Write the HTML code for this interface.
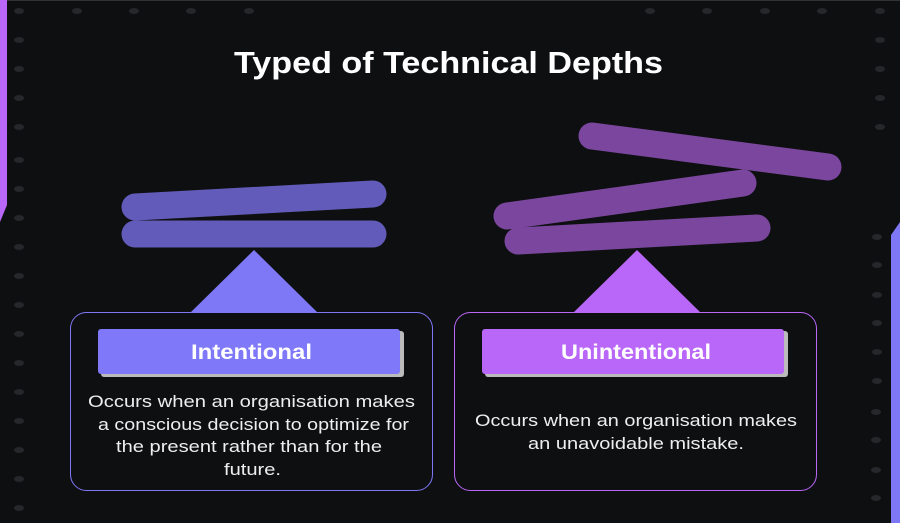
<!DOCTYPE html>
<html><head><style>
body{margin:0;background:#0e0f11;}
svg{display:block;font-family:"Liberation Sans",sans-serif;}
</style></head><body>
<svg width="900" height="523" viewBox="0 0 900 523" xmlns="http://www.w3.org/2000/svg">
<rect width="900" height="523" fill="#0e0f11"/>
<rect width="900" height="1" fill="#333"/>
<g fill="#26272a">
<ellipse cx="77" cy="11" rx="5" ry="3"/><ellipse cx="134" cy="11" rx="5" ry="3"/><ellipse cx="191" cy="11" rx="5" ry="3"/><ellipse cx="249" cy="11" rx="5" ry="3"/>
<ellipse cx="650" cy="11" rx="5" ry="3"/><ellipse cx="707" cy="11" rx="5" ry="3"/><ellipse cx="765" cy="11" rx="5" ry="3"/><ellipse cx="822" cy="11" rx="5" ry="3"/><ellipse cx="880" cy="11" rx="5" ry="3"/>
<ellipse cx="19" cy="11" rx="5" ry="3"/><ellipse cx="19" cy="40" rx="5" ry="3"/><ellipse cx="19" cy="69" rx="5" ry="3"/><ellipse cx="19" cy="98" rx="5" ry="3"/><ellipse cx="19" cy="127" rx="5" ry="3"/><ellipse cx="19" cy="160" rx="5" ry="3"/><ellipse cx="19" cy="189" rx="5" ry="3"/><ellipse cx="19" cy="218" rx="5" ry="3"/><ellipse cx="19" cy="247" rx="5" ry="3"/><ellipse cx="19" cy="276" rx="5" ry="3"/><ellipse cx="19" cy="305" rx="5" ry="3"/><ellipse cx="19" cy="334" rx="5" ry="3"/><ellipse cx="19" cy="363" rx="5" ry="3"/><ellipse cx="19" cy="392" rx="5" ry="3"/><ellipse cx="19" cy="421" rx="5" ry="3"/><ellipse cx="19" cy="450" rx="5" ry="3"/><ellipse cx="19" cy="479" rx="5" ry="3"/><ellipse cx="19" cy="508" rx="5" ry="3"/>
<ellipse cx="880" cy="40" rx="5" ry="3"/><ellipse cx="880" cy="69" rx="5" ry="3"/><ellipse cx="880" cy="98" rx="5" ry="3"/><ellipse cx="880" cy="127" rx="5" ry="3"/>
<ellipse cx="877" cy="237" rx="5" ry="3"/><ellipse cx="877" cy="265" rx="5" ry="3"/><ellipse cx="877" cy="295" rx="5" ry="3"/><ellipse cx="877" cy="323" rx="5" ry="3"/><ellipse cx="877" cy="352" rx="5" ry="3"/><ellipse cx="877" cy="381" rx="5" ry="3"/><ellipse cx="876" cy="412" rx="5" ry="3"/><ellipse cx="876" cy="440" rx="5" ry="3"/><ellipse cx="876" cy="470" rx="5" ry="3"/><ellipse cx="876" cy="498" rx="5" ry="3"/>
</g>
<polygon points="0,0 7,0 7,205 0,222" fill="#b967f8"/>
<polygon points="891,235 900,222 900,523 891,523" fill="#7e78f7"/>
<text x="234" y="73" textLength="429" lengthAdjust="spacingAndGlyphs" fill="#fff" font-size="31" font-weight="bold">Typed of Technical Depths</text>
<g stroke-linecap="round" stroke-width="27" fill="none">
<line x1="135" y1="207" x2="373" y2="194" stroke="#635bb9"/>
<line x1="135" y1="234" x2="373" y2="234" stroke="#635bb9"/>
<line x1="592" y1="136" x2="828" y2="167" stroke="#7b479e"/>
<line x1="507" y1="216" x2="743" y2="183" stroke="#7b479e"/>
<line x1="518" y1="241" x2="757" y2="228" stroke="#7b479e"/>
</g>
<polygon points="254,250 190,313 318,313" fill="#7e78f7"/>
<polygon points="637,250 573,313 701,313" fill="#b967f8"/>
<rect x="70.5" y="312.5" width="362" height="178" rx="16" fill="#0e0f11" stroke="#7e78f7"/>
<rect x="454.5" y="312.5" width="362" height="178" rx="16" fill="#0e0f11" stroke="#b967f8"/>
<rect x="101" y="331" width="303" height="46" rx="3" fill="#bbb"/>
<rect x="98" y="329" width="302" height="45" rx="3" fill="#7f78f8"/>
<rect x="485" y="331" width="303" height="46" rx="3" fill="#bbb"/>
<rect x="482" y="329" width="302" height="45" rx="3" fill="#b967f8"/>
<g fill="#fff" font-weight="bold" font-size="21">
<text x="191" y="359" textLength="121" lengthAdjust="spacingAndGlyphs">Intentional</text>
<text x="561" y="359" textLength="150" lengthAdjust="spacingAndGlyphs">Unintentional</text>
</g>
<g fill="#eee" font-size="17" lengthAdjust="spacingAndGlyphs">
<text x="88" y="407" textLength="327" lengthAdjust="spacingAndGlyphs">Occurs when an  organisation makes</text>
<text x="98" y="430" textLength="311" lengthAdjust="spacingAndGlyphs">a conscious decision to optimize for</text>
<text x="116" y="452" textLength="266" lengthAdjust="spacingAndGlyphs">the present rather than for the</text>
<text x="224" y="475" textLength="57" lengthAdjust="spacingAndGlyphs">future.</text>
<text x="475" y="426" textLength="322" lengthAdjust="spacingAndGlyphs">Occurs when an organisation makes</text>
<text x="528" y="449" textLength="216" lengthAdjust="spacingAndGlyphs">an unavoidable mistake.</text>
</g>
</svg>
</body></html>
